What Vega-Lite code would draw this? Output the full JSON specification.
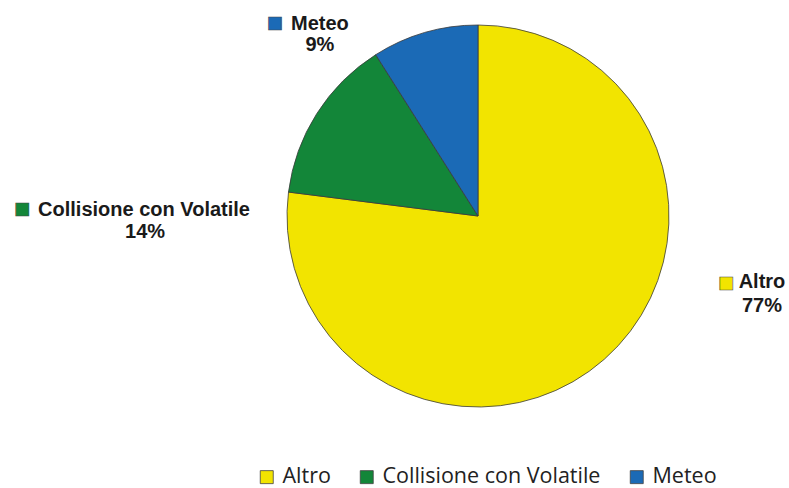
{
  "$schema": "https://vega.github.io/schema/vega-lite/v6.json",
  "width": 400,
  "height": 400,
  "autosize": {"type": "none"},
  "padding": {"left": 278, "top": 16, "right": 111, "bottom": 72},
  "background": "white",
  "config": {"view": {"stroke": null}},
  "data": {
    "values": [
      {"category": "Altro", "share": 0.77},
      {"category": "Collisione con Volatile", "share": 0.14},
      {"category": "Meteo", "share": 0.09}
    ]
  },
  "transform": [
    {"stack": "share", "groupby": [], "sort": [{"field": "category", "order": "ascending"}], "as": ["t0", "t1"]}
  ],
  "layer": [
    {
      "mark": {"type": "arc", "outerRadius": 191, "stroke": "#3a3a3a", "strokeWidth": 0.8},
      "encoding": {
        "theta": {"field": "t0", "type": "quantitative", "stack": null, "scale": {"domain": [0, 1]}},
        "theta2": {"field": "t1"},
        "color": {
          "field": "category",
          "type": "nominal",
          "scale": {"domain": ["Altro", "Collisione con Volatile", "Meteo"], "range": ["#F2E400", "#138639", "#1B6AB6"]},
          "legend": {
            "orient": "none",
            "legendX": -22,
            "legendY": 450,
            "direction": "horizontal",
            "title": null,
            "symbolType": "square",
            "symbolSize": 169,
            "symbolStrokeColor": "#555555",
            "symbolStrokeWidth": 0.8,
            "labelFont": "Open Sans",
            "labelFontSize": 21.5,
            "labelColor": "#222222",
            "labelOffset": 5,
            "labelLimit": 0,
            "columnPadding": 25,
            "padding": 0,
            "symbolOffset": 0
          }
        }
      }
    },
    {
      "transform": [{"filter": "datum.category === 'Meteo'"}],
      "encoding": {"theta": {"field": "t0", "type": "quantitative", "stack": null}},
      "layer": [
        {"mark": {"type": "text", "text": "■", "font": "DejaVu Sans", "fontSize": 17, "radius": 241, "dx": -74, "dy": 10.5, "baseline": "middle", "align": "center", "stroke": "#444444", "strokeWidth": 0.6},
         "encoding": {"color": {"field": "category", "type": "nominal"}}},
        {"mark": {"type": "text", "font": "Liberation Sans", "fontWeight": "bold", "fontSize": 20, "radius": 241, "dx": -29, "dy": 11, "baseline": "middle", "align": "center", "color": "#1a1a1a"},
         "encoding": {"text": {"field": "category"}}},
        {"mark": {"type": "text", "font": "Liberation Sans", "fontWeight": "bold", "fontSize": 20, "radius": 241, "dx": -29, "dy": 32.5, "baseline": "middle", "align": "center", "color": "#1a1a1a"},
         "encoding": {"text": {"field": "share", "type": "quantitative", "format": ".0%"}}}
      ]
    },
    {
      "transform": [{"filter": "datum.category === 'Collisione con Volatile'"}],
      "encoding": {"theta": {"field": "t0", "type": "quantitative", "stack": null}},
      "layer": [
        {"mark": {"type": "text", "text": "■", "font": "DejaVu Sans", "fontSize": 17, "radius": 334, "dx": -124.6, "dy": 34.9, "baseline": "middle", "align": "center", "stroke": "#444444", "strokeWidth": 0.6},
         "encoding": {"color": {"field": "category", "type": "nominal"}}},
        {"mark": {"type": "text", "font": "Liberation Sans", "fontWeight": "bold", "fontSize": 20, "radius": 334, "dx": -2.6, "dy": 35.9, "baseline": "middle", "align": "center", "color": "#1a1a1a"},
         "encoding": {"text": {"field": "category"}}},
        {"mark": {"type": "text", "font": "Liberation Sans", "fontWeight": "bold", "fontSize": 20, "radius": 334, "dx": -1.6, "dy": 57.9, "baseline": "middle", "align": "center", "color": "#1a1a1a"},
         "encoding": {"text": {"field": "share", "type": "quantitative", "format": ".0%"}}}
      ]
    },
    {
      "transform": [{"filter": "datum.category === 'Altro'"}],
      "encoding": {"theta": {"field": "t0", "type": "quantitative", "stack": null}},
      "layer": [
        {"mark": {"type": "text", "text": "■", "font": "DejaVu Sans", "fontSize": 17, "radius": 0, "dx": 248, "dy": 67, "baseline": "middle", "align": "center", "stroke": "#444444", "strokeWidth": 0.6},
         "encoding": {"color": {"field": "category", "type": "nominal"}}},
        {"mark": {"type": "text", "font": "Liberation Sans", "fontWeight": "bold", "fontSize": 20, "radius": 0, "dx": 284, "dy": 66, "baseline": "middle", "align": "center", "color": "#1a1a1a"},
         "encoding": {"text": {"field": "category"}}},
        {"mark": {"type": "text", "font": "Liberation Sans", "fontWeight": "bold", "fontSize": 20, "radius": 0, "dx": 284, "dy": 90, "baseline": "middle", "align": "center", "color": "#1a1a1a"},
         "encoding": {"text": {"field": "share", "type": "quantitative", "format": ".0%"}}}
      ]
    }
  ]
}
